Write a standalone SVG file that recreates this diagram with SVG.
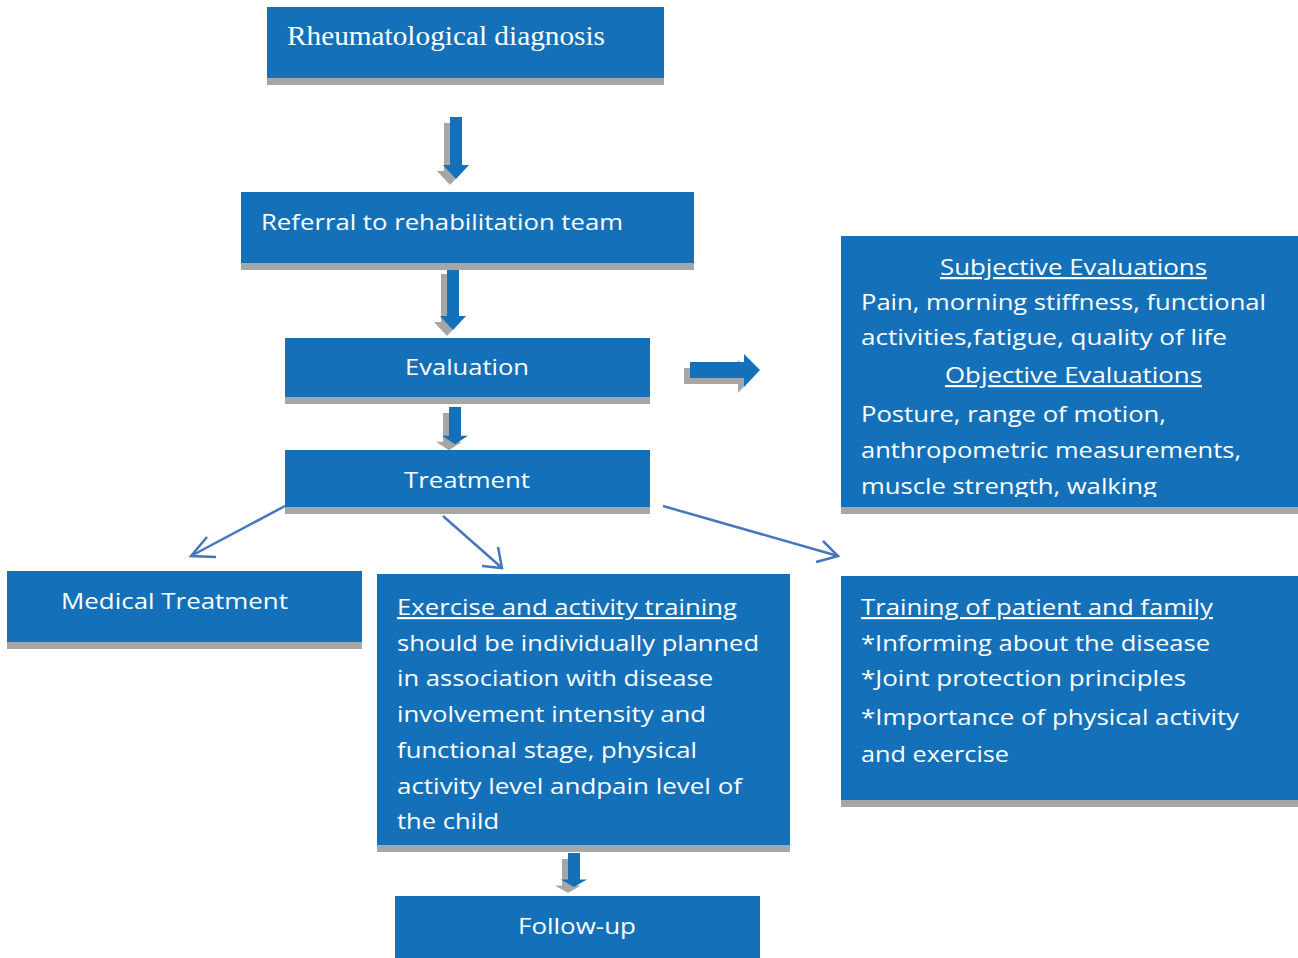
<svg xmlns="http://www.w3.org/2000/svg" width="1298" height="958" viewBox="0 0 1298 958">
  <style>
    .box { fill: #1471b9; }
    .shade { fill: #a6a6a6; }
    .t { font-family: "Open Sans", "Liberation Sans", sans-serif; font-size: 22px; fill: #ffffff; }
    .serif { font-family: "Liberation Serif", "Times New Roman", serif; font-size: 27px; fill: #ffffff; }
    .u { text-decoration: underline; }
    .blk { fill: #1471b9; }
    .blk-shadow { fill: #a6a6a6; }
    .link { fill: none; stroke: #4677be; stroke-width: 2.5; }
  </style>
  <defs>
    <clipPath id="evalClip">
      <rect x="841" y="236" width="457" height="261"/>
    </clipPath>
    <!-- block arrow pointing down, origin at top-left of shaft -->
    <path id="downArrow" d="M0,0 h12 v48 h7 l-13,14 l-13,-14 h7 z"/>
    <path id="rightArrow" d="M0,0 h54 v-8 l16,16 l-16,17 v-9 h-54 z"/>
  </defs>

  <!-- block arrows between steps -->
  <g id="flow-arrows">
    <use href="#downArrow" class="blk-shadow" transform="translate(444,123)"/>
    <use href="#downArrow" class="blk" transform="translate(450,117)"/>
    <use href="#downArrow" class="blk-shadow" transform="translate(441,274)"/>
    <use href="#downArrow" class="blk" transform="translate(447,268)"/>
    <use href="#downArrow" class="blk-shadow" transform="translate(443,413) scale(1,0.6)"/>
    <use href="#downArrow" class="blk" transform="translate(449,407) scale(1,0.6)"/>
    <use href="#rightArrow" class="blk-shadow" transform="translate(684,368)"/>
    <use href="#rightArrow" class="blk" transform="translate(690,362)"/>
    <use href="#downArrow" class="blk-shadow" transform="translate(562,859) scale(1,0.55)"/>
    <use href="#downArrow" class="blk" transform="translate(568,853) scale(1,0.55)"/>
  </g>

  <!-- line connectors from Treatment -->
  <g id="connectors">
    <line class="link" x1="285" y1="506" x2="191" y2="556"/>
    <polyline class="link" points="207,537 191,556 216,557"/>
    <line class="link" x1="443" y1="516" x2="502" y2="568"/>
    <polyline class="link" points="482,566 502,568 498,547"/>
    <line class="link" x1="663" y1="506" x2="838" y2="556"/>
    <polyline class="link" points="816,562 838,556 823,541"/>
  </g>

  <g id="diagnosis">
    <rect class="shade" x="267" y="14" width="397" height="71"/>
    <rect class="box" x="267" y="7" width="397" height="71"/>
    <text class="serif" x="287" y="45" textLength="318" lengthAdjust="spacingAndGlyphs">Rheumatological diagnosis</text>
  </g>

  <g id="referral">
    <rect class="shade" x="241" y="199" width="453" height="71"/>
    <rect class="box" x="241" y="192" width="453" height="71"/>
    <text class="t" x="261" y="230" textLength="362" lengthAdjust="spacingAndGlyphs">Referral to rehabilitation team</text>
  </g>

  <g id="evaluation">
    <rect class="shade" x="285" y="345" width="365" height="59"/>
    <rect class="box" x="285" y="338" width="365" height="59"/>
    <text class="t" x="405" y="375" textLength="124" lengthAdjust="spacingAndGlyphs">Evaluation</text>
  </g>

  <g id="treatment">
    <rect class="shade" x="285" y="457" width="365" height="57"/>
    <rect class="box" x="285" y="450" width="365" height="57"/>
    <text class="t" x="404" y="488" textLength="126" lengthAdjust="spacingAndGlyphs">Treatment</text>
  </g>

  <g id="evaluations-detail">
    <rect class="shade" x="841" y="243" width="457" height="271"/>
    <rect class="box" x="841" y="236" width="457" height="271"/>
    <g clip-path="url(#evalClip)">
      <text class="t u" x="940" y="275" textLength="267" lengthAdjust="spacingAndGlyphs">Subjective Evaluations</text>
      <text class="t" x="861" y="310" textLength="405" lengthAdjust="spacingAndGlyphs">Pain, morning stiffness, functional</text>
      <text class="t" x="861" y="345" textLength="366" lengthAdjust="spacingAndGlyphs">activities,fatigue, quality of life</text>
      <text class="t u" x="945" y="383" textLength="257" lengthAdjust="spacingAndGlyphs">Objective Evaluations</text>
      <text class="t" x="861" y="422" textLength="305" lengthAdjust="spacingAndGlyphs">Posture, range of motion,</text>
      <text class="t" x="861" y="458" textLength="380" lengthAdjust="spacingAndGlyphs">anthropometric measurements,</text>
      <text class="t" x="861" y="494" textLength="296" lengthAdjust="spacingAndGlyphs">muscle strength, walking</text>
    </g>
  </g>

  <g id="medical-treatment">
    <rect class="shade" x="7" y="578" width="355" height="71"/>
    <rect class="box" x="7" y="571" width="355" height="71"/>
    <text class="t" x="61" y="609" textLength="227" lengthAdjust="spacingAndGlyphs">Medical Treatment</text>
  </g>

  <g id="exercise-training">
    <rect class="shade" x="377" y="581" width="413" height="271"/>
    <rect class="box" x="377" y="574" width="413" height="271"/>
    <text class="t u" x="397" y="615" textLength="340" lengthAdjust="spacingAndGlyphs">Exercise and activity training</text>
    <text class="t" x="397" y="651" textLength="362" lengthAdjust="spacingAndGlyphs">should be individually planned</text>
    <text class="t" x="397" y="686" textLength="316" lengthAdjust="spacingAndGlyphs">in association with disease</text>
    <text class="t" x="397" y="722" textLength="309" lengthAdjust="spacingAndGlyphs">involvement intensity and</text>
    <text class="t" x="397" y="758" textLength="300" lengthAdjust="spacingAndGlyphs">functional stage, physical</text>
    <text class="t" x="397" y="794" textLength="345" lengthAdjust="spacingAndGlyphs">activity level andpain level of</text>
    <text class="t" x="397" y="829" textLength="102" lengthAdjust="spacingAndGlyphs">the child</text>
  </g>

  <g id="family-training">
    <rect class="shade" x="841" y="583" width="457" height="224"/>
    <rect class="box" x="841" y="576" width="457" height="224"/>
    <text class="t u" x="861" y="615" textLength="352" lengthAdjust="spacingAndGlyphs">Training of patient and family</text>
    <text class="t" x="861" y="651" textLength="349" lengthAdjust="spacingAndGlyphs">*Informing about the disease</text>
    <text class="t" x="861" y="686" textLength="325" lengthAdjust="spacingAndGlyphs">*Joint protection principles</text>
    <text class="t" x="861" y="725" textLength="378" lengthAdjust="spacingAndGlyphs">*Importance of physical activity</text>
    <text class="t" x="861" y="762" textLength="148" lengthAdjust="spacingAndGlyphs">and exercise</text>
  </g>

  <g id="follow-up">
    <rect class="box" x="395" y="896" width="365" height="62"/>
    <text class="t" x="518" y="934" textLength="118" lengthAdjust="spacingAndGlyphs">Follow-up</text>
  </g>
</svg>
